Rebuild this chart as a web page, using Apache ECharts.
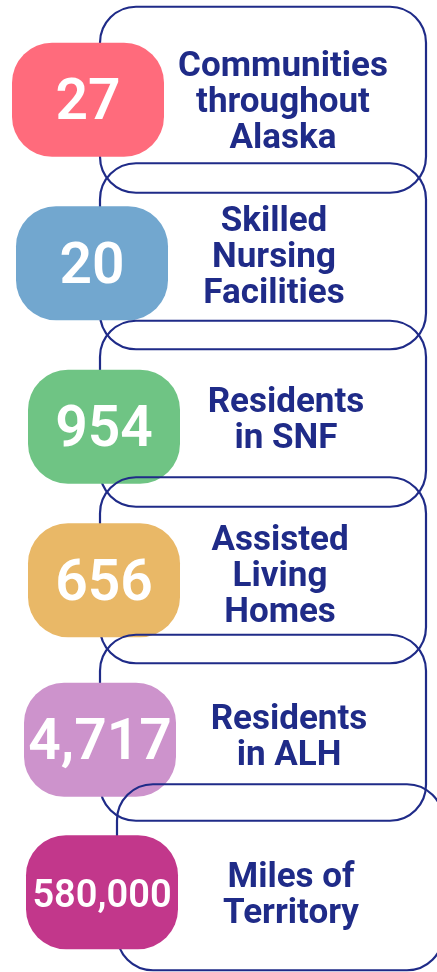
<!DOCTYPE html>
<html>
<head>
<meta charset="utf-8">
<script src="https://cdn.jsdelivr.net/npm/echarts@6/dist/echarts.min.js"></script>
<style>
  html, body { margin: 0; padding: 0; background: #fff; }
  #main { width: 437px; height: 972px; }
</style>
</head>
<body>
<div id="main"></div>
<script>
const chart = echarts.init(document.getElementById('main'));

// figures shown in the coloured tiles
const values = [27, 20, 954, 656, 4717, 580000];
const labels = [
    'Communities\nthroughout\nAlaska',
    'Skilled\nNursing\nFacilities',
    'Residents\nin SNF',
    'Assisted\nLiving\nHomes',
    'Residents\nin ALH',
    'Miles of\nTerritory'
];
const tileColors = ['#ff6b7c', '#72a7cf', '#6fc484', '#e9b867', '#cd93cc', '#c2378b'];

// small per-row layout nudges (px)
const frameLeft = [100, 100, 100, 100, 100, 117];
const frameDy = [0, 1, 3, 4, 6, 0];
const tileLeft = [12, 16, 28, 28, 24, 26];
const tileDy = [0, 8, 16, 14, 18, 15];
const labelX = [283, 274, 286, 280, 289, 291];
const labelDy = [3, 3, 10, 11, 16, 19];
const numSize = [57, 57, 57, 57, 57, 38];

const navy = '#1f2b88';
const font = 'Roboto, "Noto Sans", sans-serif';

function renderItem(params, api) {
    const i = api.value(1);
    const cy = api.coord([0, i])[1];
    const fy = cy + frameDy[i];
    const ty = cy + tileDy[i];
    const tx = tileLeft[i];
    return {
        type: 'group',
        children: [
            {
                type: 'rect',
                shape: { x: frameLeft[i], y: fy - 93, width: 326, height: 186, r: 36 },
                style: { fill: 'none', stroke: navy, lineWidth: 2.2 }
            },
            {
                type: 'rect',
                shape: { x: tx, y: ty - 57, width: 152, height: 114, r: 40 },
                style: { fill: tileColors[i] }
            },
            {
                type: 'text',
                x: tx + 76,
                y: ty + 5,
                style: {
                    text: values[i].toLocaleString('en-US'),
                    fill: '#fff',
                    font: '600 ' + numSize[i] + 'px ' + font,
                    align: 'center',
                    verticalAlign: 'middle'
                }
            },
            {
                type: 'text',
                x: labelX[i],
                y: cy + labelDy[i],
                style: {
                    text: labels[i],
                    fill: navy,
                    font: 'bold 35px ' + font,
                    lineHeight: 36,
                    align: 'center',
                    verticalAlign: 'middle'
                }
            }
        ]
    };
}

const option = {
    animation: false,
    grid: { left: 0, right: 0, top: 22, bottom: 17 },
    xAxis: { type: 'value', min: 0, max: 437, show: false },
    yAxis: {
        type: 'category',
        inverse: true,
        show: false,
        data: labels
    },
    series: [{
        type: 'custom',
        renderItem: renderItem,
        clip: false,
        encode: { x: 0, y: 1 },
        data: values.map((v, i) => [0, i, v])
    }]
};

chart.setOption(option);
</script>
</body>
</html>
